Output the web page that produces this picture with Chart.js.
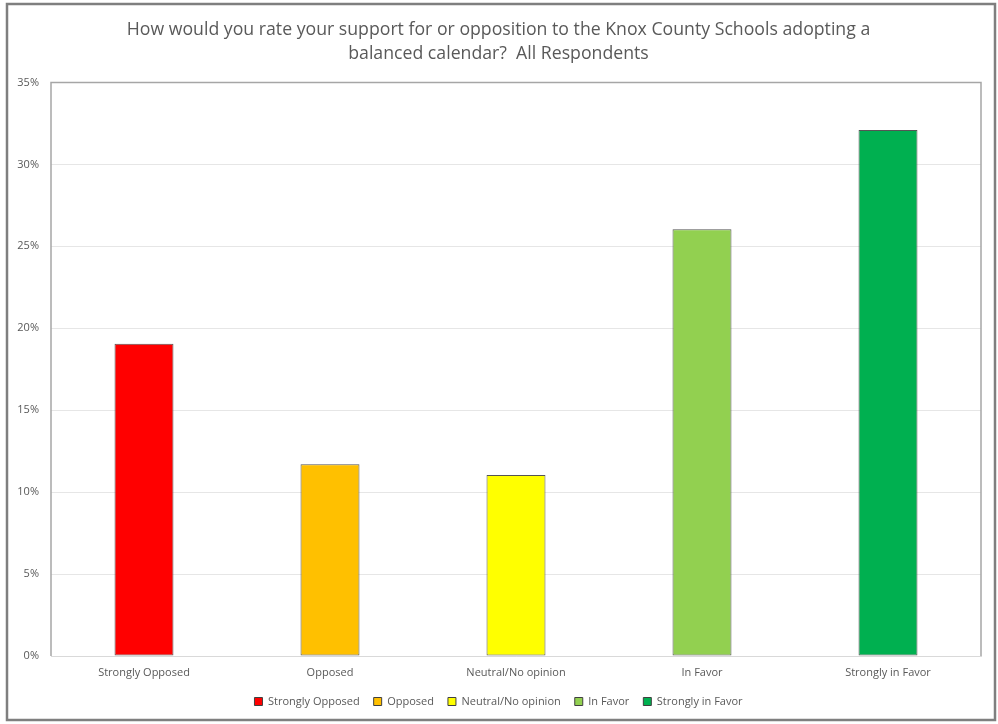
<!DOCTYPE html>
<html>
<head>
<meta charset="utf-8">
<script src="https://cdn.jsdelivr.net/npm/chart.js@4"></script>
<style>
  html, body { margin: 0; padding: 0; background: #fff; }
  #wrap { position: relative; width: 998px; height: 724px; }
</style>
</head>
<body>
<div id="wrap"><canvas id="chart" width="998" height="724"></canvas></div>
<script>
const categories = ['Strongly Opposed', 'Opposed', 'Neutral/No opinion', 'In Favor', 'Strongly in Favor'];
const shares = [19.05, 11.7, 11.05, 26.05, 32.1];
const barColors = ['#ff0000', '#ffc000', '#ffff00', '#92d050', '#00b050'];
const titleLines = ['How would you rate your support for or opposition to the Knox County Schools adopting a', 'balanced calendar?  All Respondents'];

const FONT = "'Open Sans', 'Noto Sans', sans-serif";
const GREY = '#595959';

// frame around the whole picture and the plot area outline
const frames = {
    id: 'frames',
    afterDraw(chart) {
        const ctx = chart.ctx;
        const a = chart.chartArea;
        ctx.save();
        ctx.strokeStyle = '#a6a6a6';
        ctx.lineWidth = 1.5;
        ctx.beginPath();
        ctx.moveTo(a.left, a.bottom);
        ctx.lineTo(a.left, a.top);
        ctx.lineTo(a.right, a.top);
        ctx.lineTo(a.right, a.bottom);
        ctx.stroke();
        ctx.strokeStyle = '#7f7f7f';
        ctx.lineWidth = 2.5;
        ctx.strokeRect(7, 4, 988, 716);
        ctx.restore();
    }
};

new Chart(document.getElementById('chart'), {
    type: 'bar',
    data: {
        labels: categories,
        datasets: [{
            data: shares,
            backgroundColor: barColors,
            borderColor: '#555555',
            borderWidth: 1,
            borderSkipped: false,
            categoryPercentage: 1,
            barPercentage: 0.317
        }]
    },
    options: {
        responsive: false,
        animation: false,
        layout: { padding: { left: 16, right: 17, top: 10, bottom: 7 } },
        plugins: {
            title: {
                display: true,
                text: titleLines,
                color: GREY,
                font: { family: FONT, size: 17.7, weight: 'normal', lineHeight: 1.37 },
                padding: { top: 8, bottom: 16 }
            },
            legend: {
                position: 'bottom',
                labels: {
                    color: GREY,
                    font: { family: FONT, size: 11 },
                    boxWidth: 8,
                    boxHeight: 8,
                    padding: 14,
                    generateLabels() {
                        return categories.map((c, i) => ({
                            text: c,
                            fillStyle: barColors[i],
                            strokeStyle: '#404040',
                            fontColor: GREY,
                            lineWidth: 1,
                            index: i
                        }));
                    }
                },
                onClick() {}
            },
            tooltip: { enabled: false }
        },
        scales: {
            x: {
                grid: { display: false, tickLength: 0 },
                border: { color: '#d9d9d9' },
                ticks: { color: GREY, font: { family: FONT, size: 11 }, padding: 10 },
                afterFit(scale) { scale.height = 26; }
            },
            y: {
                min: 0,
                max: 35,
                grid: { color: '#e6e6e6', drawTicks: false },
                border: { display: false },
                ticks: {
                    stepSize: 5,
                    color: GREY,
                    font: { family: FONT, size: 11 },
                    padding: 12,
                    callback: v => v + '%'
                },
                afterFit(scale) { scale.width = 35; }
            }
        }
    },
    plugins: [frames]
});
</script>
</body>
</html>
